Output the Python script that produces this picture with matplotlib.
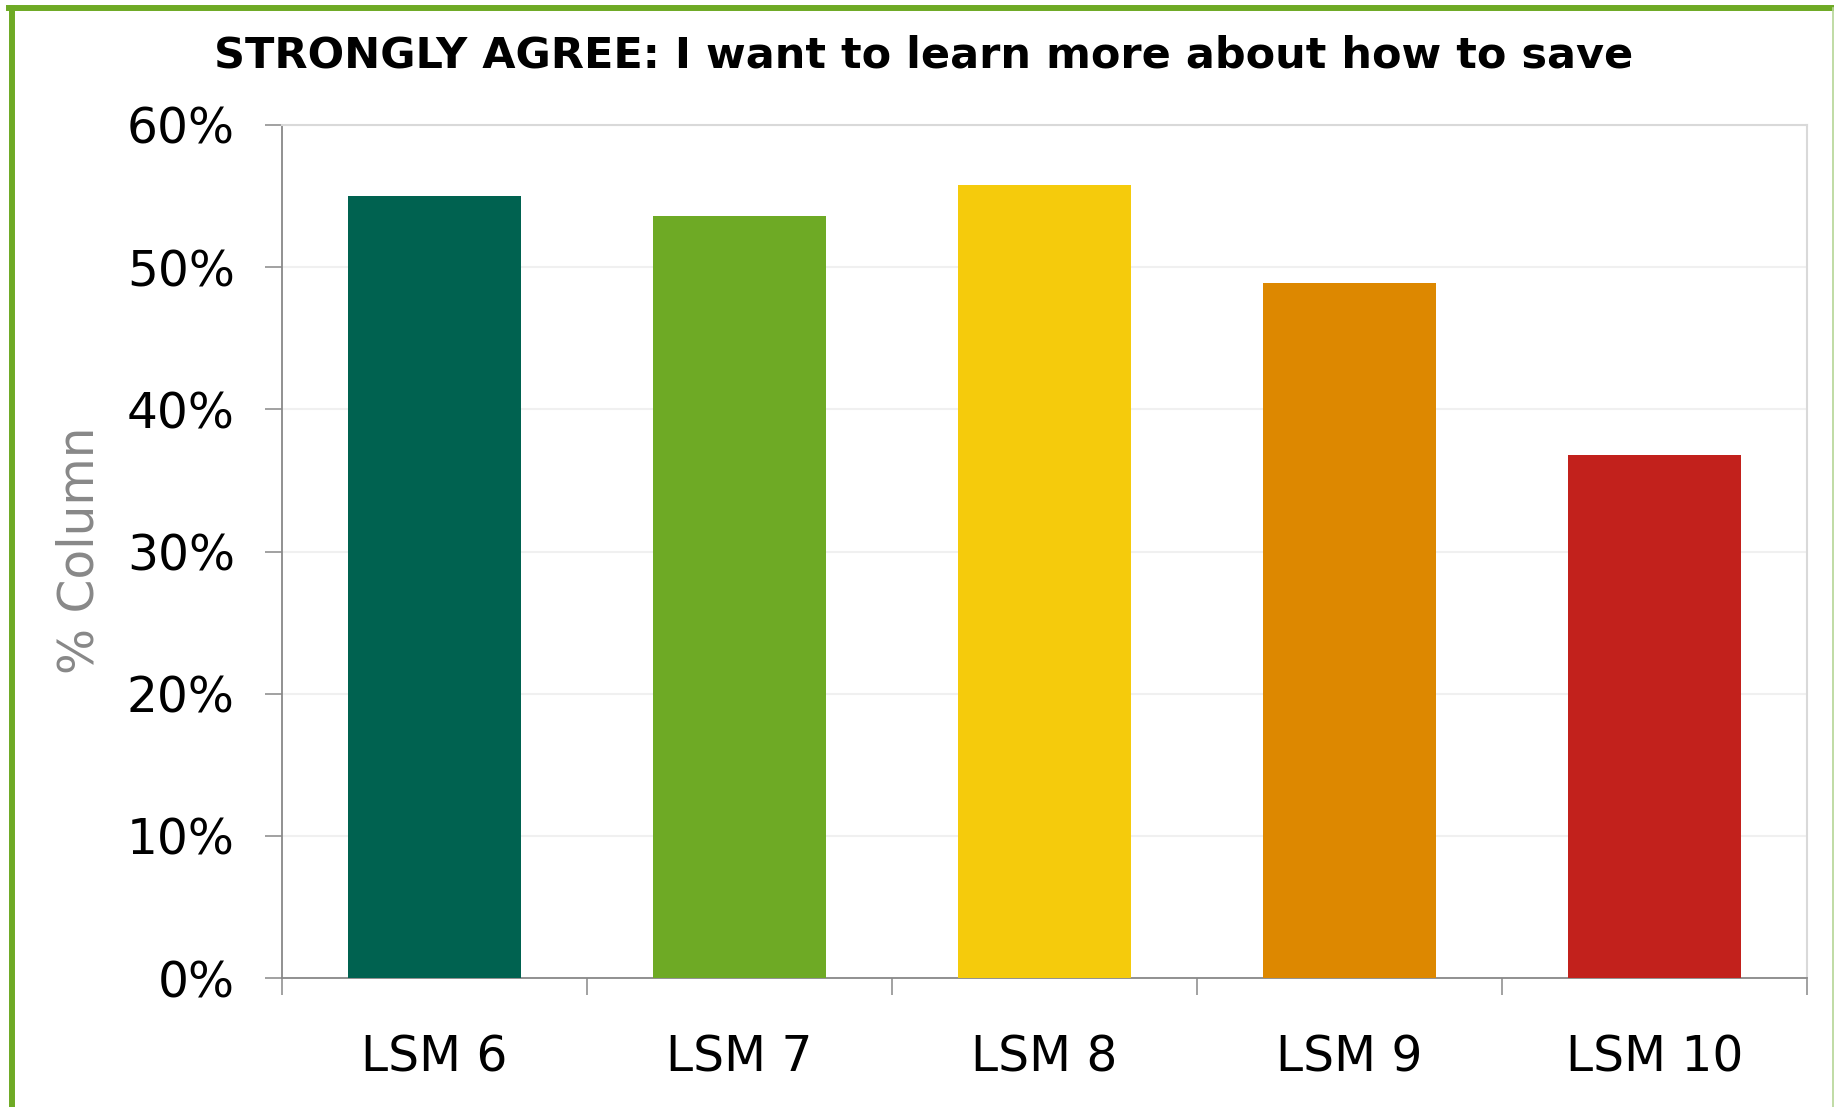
import matplotlib.pyplot as plt
import numpy as np
from matplotlib.lines import Line2D
from matplotlib.ticker import FuncFormatter, MultipleLocator

# survey waves and share answering "strongly agree" (%)
waves = ["LSM 6", "LSM 7", "LSM 8", "LSM 9", "LSM 10"]
strongly_agree = [55.0, 53.6, 55.8, 48.9, 36.8]
bar_colors = ["#006250", "#6EAA25", "#F5CB0C", "#DD8800", "#C2211C"]

W, H = 1834, 1107
fig = plt.figure(figsize=(W / 100, H / 100), dpi=100)
plt.rcParams['font.family'] = ['DejaVu Sans']

ax = fig.add_axes([282 / W, 1 - 978 / H, 1525 / W, 853 / H])

ind = np.arange(len(waves))
ax.bar(ind, strongly_agree, width=0.57, color=bar_colors, zorder=3)

ax.set_xlim(-0.5, len(waves) - 0.5)
ax.set_ylim(0, 60)
ax.yaxis.set_major_locator(MultipleLocator(10))
ax.yaxis.set_major_formatter(FuncFormatter(lambda v, p: f"{v:.0f}%"))
ax.grid(axis='y', color='#f0f0f0', linewidth=1.5, zorder=0)

# category ticks sit between the bars, labels centred under them
ax.set_xticks(np.arange(len(waves) + 1) - 0.5)
ax.set_xticklabels([])
ax.set_xticks(ind, minor=True)
ax.set_xticklabels(waves, minor=True)
ax.tick_params(axis='x', which='minor', length=0, pad=40, labelsize=35)
ax.tick_params(axis='x', which='major', length=12, width=1.1, color='#888888')
ax.tick_params(axis='y', length=12, width=1.1, color='#888888', pad=22, labelsize=35)

for side in ('left', 'bottom'):
    ax.spines[side].set_color('#888888')
    ax.spines[side].set_linewidth(1.3)
for side in ('top', 'right'):
    ax.spines[side].set_color('#d9d9d9')
    ax.spines[side].set_linewidth(1.5)

fig.text(924 / W, 1 - 56 / H, "STRONGLY AGREE: I want to learn more about how to save",
         ha='center', va='center', fontsize=31, fontweight='bold')
fig.text(80 / W, 1 - 550 / H, "% Column", rotation=90, ha='center', va='center',
         fontsize=35, color='#888888')

# green frame around the chart (bottom edge runs off the image)
fig.add_artist(Line2D([12 / W, 12 / W], [-0.01, 1 - 8 / H], color='#6EAA25', linewidth=4.3))
fig.add_artist(Line2D([9 / W, 1.0], [1 - 8 / H, 1 - 8 / H], color='#6EAA25', linewidth=4.3))
fig.add_artist(Line2D([1833 / W, 1833 / W], [0, 1 - 8 / H], color='#b5d596', linewidth=1.2))

fig.savefig("out.png", dpi=100)
